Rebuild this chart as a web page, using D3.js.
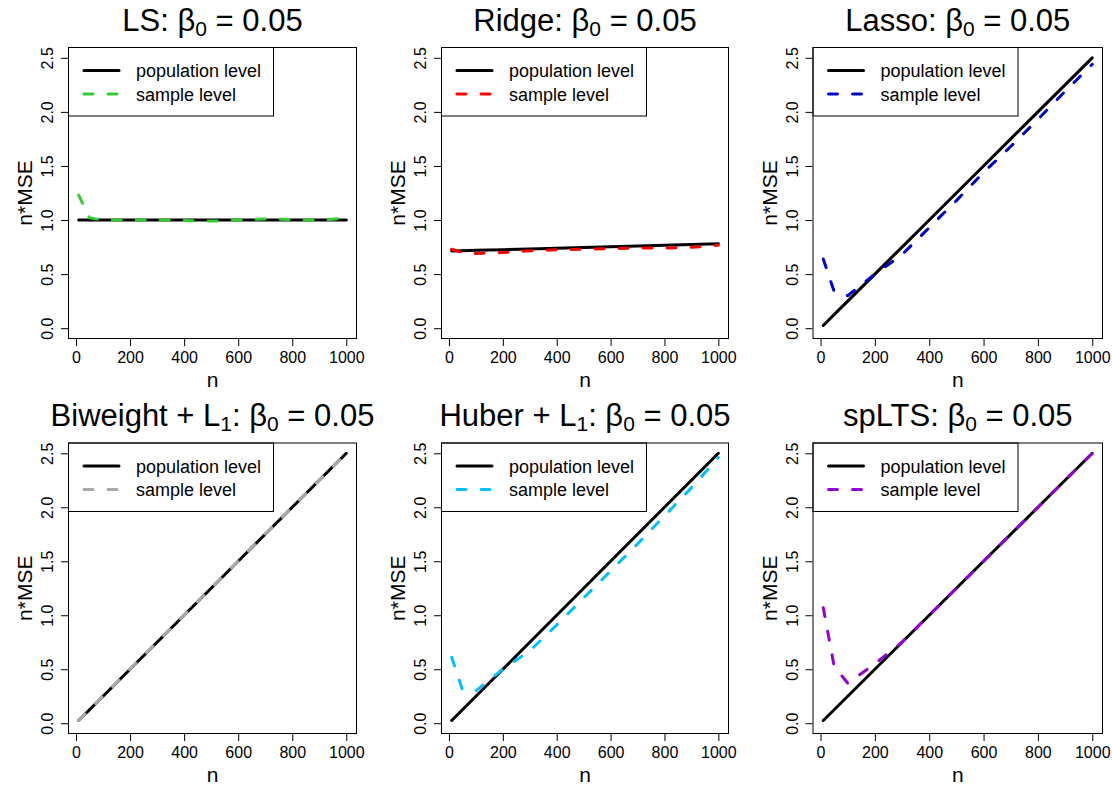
<!DOCTYPE html>
<html>
<head>
<meta charset="utf-8">
<script src="https://cdn.jsdelivr.net/npm/d3@7"></script>
<style>
  html, body { margin: 0; padding: 0; background: #fff; }
  svg { display: block; font-family: "Liberation Sans", Arial, Helvetica, sans-serif; }
</style>
</head>
<body>
<svg id="chart" width="1112" height="789"></svg>
<script>
// Sample sizes on the x axis
const nValues = [10, 50, 100, 200, 300, 400, 500, 600, 700, 800, 900, 1000];

// Panel titles: estimator name, subscripted part of the name (if any)
const methodNames = ["LS", "Ridge", "Lasso", "Biweight + L", "Huber + L", "spLTS"];
const methodSubs  = ["", "", "", "1", "1", ""];
const beta0Label = "0.05";

// Population-level n*MSE curves
const popLS     = [1.0, 1.0, 1.0, 1.0, 1.0, 1.0, 1.0, 1.0, 1.0, 1.0, 1.0, 1.0];
const popRidge  = [0.713, 0.716, 0.72, 0.726, 0.733, 0.74, 0.747, 0.753, 0.76, 0.767, 0.773, 0.78];
const popLasso  = [0.025, 0.125, 0.25, 0.5, 0.75, 1.0, 1.25, 1.5, 1.75, 2.0, 2.25, 2.5];
const popBiw    = [0.025, 0.125, 0.25, 0.5, 0.75, 1.0, 1.25, 1.5, 1.75, 2.0, 2.25, 2.5];
const popHuber  = [0.025, 0.125, 0.25, 0.5, 0.75, 1.0, 1.25, 1.5, 1.75, 2.0, 2.25, 2.5];
const popSpLTS  = [0.025, 0.125, 0.25, 0.5, 0.75, 1.0, 1.25, 1.5, 1.75, 2.0, 2.25, 2.5];

// Sample-level n*MSE curves
const sampleLS    = [1.23, 1.02, 1.0, 1.0, 1.0, 0.995, 0.99, 1.0, 1.01, 1.005, 0.995, 1.02];
const sampleRidge = [0.73, 0.70, 0.69, 0.70, 0.715, 0.725, 0.73, 0.735, 0.74, 0.742, 0.748, 0.767];
const sampleLasso = [0.64, 0.34, 0.30, 0.50, 0.68, 0.93, 1.18, 1.44, 1.68, 1.93, 2.19, 2.44];
const sampleBiw   = [0.025, 0.125, 0.25, 0.5, 0.75, 1.0, 1.25, 1.5, 1.75, 2.0, 2.25, 2.5];
const sampleHuber = [0.61, 0.31, 0.30, 0.50, 0.67, 0.91, 1.16, 1.41, 1.66, 1.92, 2.18, 2.46];
const sampleSpLTS = [1.07, 0.53, 0.37, 0.55, 0.75, 1.0, 1.25, 1.5, 1.75, 2.0, 2.25, 2.5];

const sampleColors = ["#32CD32", "#FF0000", "#0000CD", "#A9A9A9", "#00BFFF", "#9400D3"];

const xTicks = [0, 200, 400, 600, 800, 1000];
const yTicks = [0.0, 0.5, 1.0, 1.5, 2.0, 2.5];
const legendLabels = ["population level", "sample level"];

const popSeries = [popLS, popRidge, popLasso, popBiw, popHuber, popSpLTS];
const sampleSeries = [sampleLS, sampleRidge, sampleLasso, sampleBiw, sampleHuber, sampleSpLTS];

// Plot-region geometry for the 3 x 2 grid
const colLeft  = [68, 441, 812.5];
const colRight = [357, 729, 1103];
const rowTop    = [47, 442.5];
const rowBottom = [339, 734];
const titleBaseline = [31, 426];

const svg = d3.select("#chart");

methodNames.forEach((name, i) => {
  const r = Math.floor(i / 3), c = i % 3;
  const L = colLeft[c], R = colRight[c], T = rowTop[r], B = rowBottom[r];

  // R-style 4% padding around data ranges
  const x = d3.scaleLinear().domain([10 - 0.04 * 990, 1000 + 0.04 * 990]).range([L, R]);
  const y = d3.scaleLinear().domain([-0.1, 2.6]).range([B, T]);

  const g = svg.append("g");

  // title with subscripts
  const title = g.append("text")
    .attr("x", (L + R) / 2).attr("y", titleBaseline[r])
    .attr("text-anchor", "middle")
    .style("font-size", "31px").attr("fill", "#000");
  title.append("tspan").text(name);
  if (methodSubs[i]) {
    title.append("tspan").attr("dy", 5).style("font-size", "21px").text(methodSubs[i]);
    title.append("tspan").attr("dy", -5).text(": \u03B2");
  } else {
    title.append("tspan").text(": \u03B2");
  }
  title.append("tspan").attr("dy", 5).style("font-size", "21px").text("0");
  title.append("tspan").attr("dy", -5).text(" = " + beta0Label);

  // x axis
  const xAxis = g.append("g")
    .attr("transform", `translate(0,${B})`)
    .call(d3.axisBottom(x).tickValues(xTicks).tickSize(7).tickFormat(d3.format("d")));
  xAxis.select(".domain").remove();
  xAxis.selectAll("line").attr("stroke", "#000");
  xAxis.selectAll("text")
    .attr("y", 24).attr("dy", 0)
    .style("font-size", "16px").style("font-family", "Liberation Sans, Arial, sans-serif")
    .attr("fill", "#000");

  // y axis with labels rotated parallel to the axis
  const yAxis = g.append("g")
    .attr("transform", `translate(${L},0)`)
    .call(d3.axisLeft(y).tickValues(yTicks).tickSize(7).tickFormat(d3.format(".1f")));
  yAxis.select(".domain").remove();
  yAxis.selectAll("line").attr("stroke", "#000");
  yAxis.selectAll("text")
    .attr("x", 0).attr("y", -15).attr("dy", 0)
    .attr("transform", "rotate(-90)")
    .style("text-anchor", "middle")
    .style("font-size", "16px").style("font-family", "Liberation Sans, Arial, sans-serif")
    .attr("fill", "#000");

  // axis titles
  g.append("text")
    .attr("x", (L + R) / 2).attr("y", B + 48)
    .attr("text-anchor", "middle").style("font-size", "21px").text("n");
  g.append("text")
    .attr("transform", `translate(${L - 36},${(T + B) / 2}) rotate(-90)`)
    .attr("text-anchor", "middle").style("font-size", "21px").text("n*MSE");

  // curves
  const line = d3.line().x((d, k) => x(nValues[k])).y(d => y(d));
  g.append("path")
    .datum(popSeries[i])
    .attr("d", line)
    .attr("fill", "none").attr("stroke", "#000").attr("stroke-width", 3)
    .attr("stroke-linecap", "round").attr("stroke-linejoin", "round");
  g.append("path")
    .datum(sampleSeries[i])
    .attr("d", line)
    .attr("fill", "none").attr("stroke", sampleColors[i]).attr("stroke-width", 3)
    .attr("stroke-dasharray", "9,15")
    .attr("stroke-linecap", "round").attr("stroke-linejoin", "round");

  // legend
  const lg = g.append("g").attr("transform", `translate(${L},${T})`);
  lg.append("rect")
    .attr("x", 0.5).attr("y", 0.5).attr("width", 205).attr("height", 68.5)
    .attr("fill", "#fff").attr("stroke", "#000").attr("stroke-width", 1);
  const rowsY = [23.5, 47];
  lg.append("line")
    .attr("x1", 16).attr("x2", 51).attr("y1", rowsY[0]).attr("y2", rowsY[0])
    .attr("stroke", "#000").attr("stroke-width", 3).attr("stroke-linecap", "round");
  lg.append("line")
    .attr("x1", 16).attr("x2", 51).attr("y1", rowsY[1]).attr("y2", rowsY[1])
    .attr("stroke", sampleColors[i]).attr("stroke-width", 3)
    .attr("stroke-dasharray", "9,15").attr("stroke-linecap", "round");
  legendLabels.forEach((lab, k) => {
    lg.append("text")
      .attr("x", 68).attr("y", rowsY[k] + 6.5)
      .style("font-size", "18px").text(lab);
  });

  // plot box
  g.append("rect")
    .attr("x", L + 0.5).attr("y", T + 0.5)
    .attr("width", R - L - 1).attr("height", B - T - 1)
    .attr("fill", "none").attr("stroke", "#000").attr("stroke-width", 1);
});
</script>
</body>
</html>
